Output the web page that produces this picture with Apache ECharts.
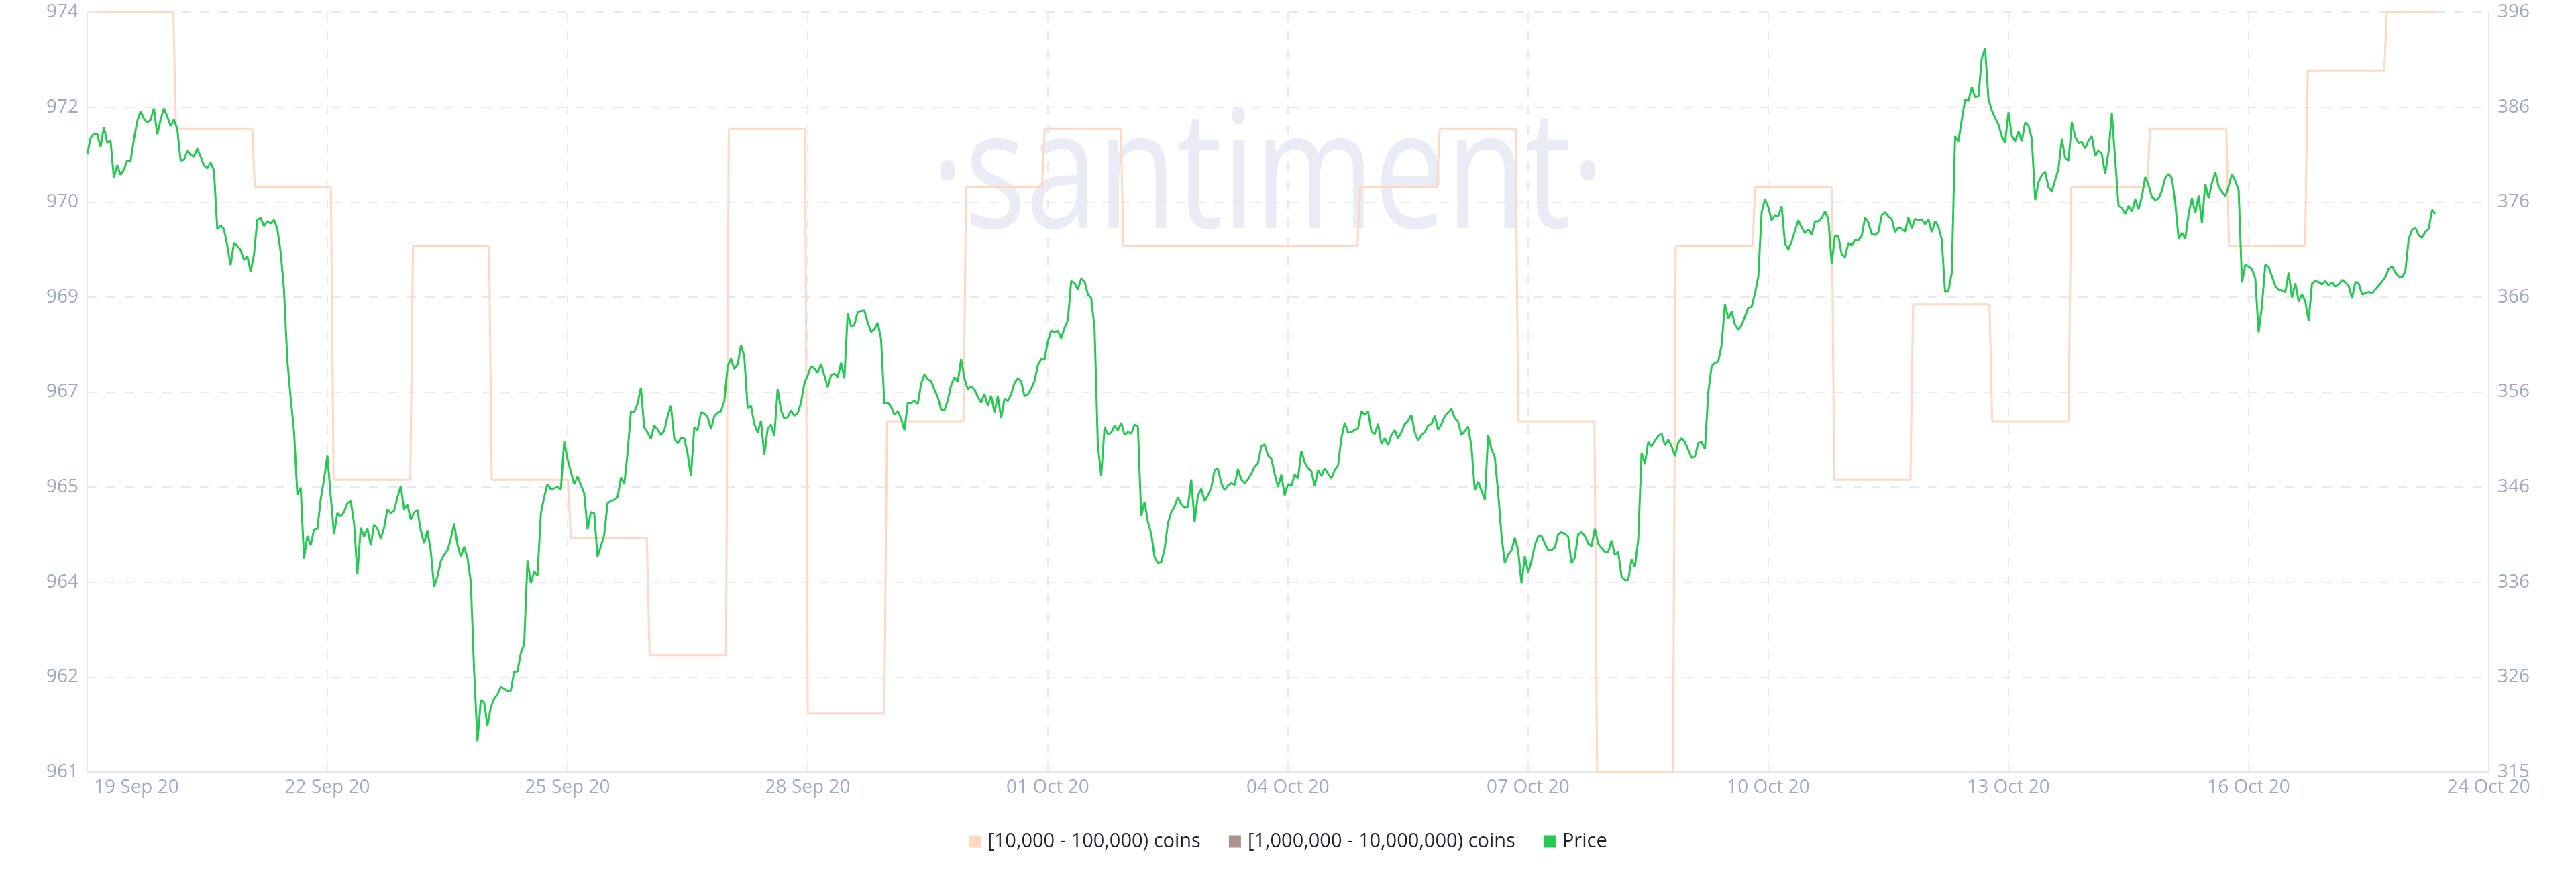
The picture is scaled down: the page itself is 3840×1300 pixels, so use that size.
<!DOCTYPE html>
<html>
<head>
<meta charset="utf-8">
<script src="https://cdn.jsdelivr.net/npm/echarts@6/dist/echarts.min.js"></script>
<style>
html,body{margin:0;padding:0;background:#ffffff;}
#chart{width:3840px;height:1300px;}
</style>
</head>
<body>
<div id="chart"></div>
<script>
// ---------- tick labels ----------
const xTickLabels = ['19 Sep 20','22 Sep 20','25 Sep 20','28 Sep 20','01 Oct 20','04 Oct 20','07 Oct 20','10 Oct 20','13 Oct 20','16 Oct 20','24 Oct 20'];
const leftTickLabels = ['961','962','964','965','967','969','970','972','974'];
const rightTickLabels = ['315','326','336','346','356','366','376','386','396'];

// ---------- holders [10,000 - 100,000) coins : daily value, start time in hours since 19 Sep 20 00:00 ----------
const coinsBandTimes = [3.02, 26.63, 50.26, 73.87, 97.67, 121.28, 144.99, 168.6, 192.32, 216.03,
  239.78, 263.5, 287.05, 310.68, 334.4, 358.0, 381.64, 405.49, 429.04, 452.68,
  476.23, 500.06, 523.77, 547.41, 571.12, 594.81, 618.42, 642.12, 665.73, 689.44];
const coinsBandValues = [974, 972, 971, 966, 970, 966, 965, 963, 972, 962,
  967, 971, 972, 970, 970, 970, 971, 972, 967, 961,
  970, 971, 966, 969, 967, 971, 972, 970, 973, 974];
const coinsBandEnd = 705.1;

// ---------- holders [1,000,000 - 10,000,000) coins (no visible values) ----------
const whaleBandValues = [];

// ---------- hourly price, from 19 Sep 20 00:00 ----------
const priceSep19to23 = [
  380.85,382.61,383.0,383.0,381.65,383.71,382.1,382.3,378.33,379.69,
  378.63,379.19,380.19,380.14,382.41,384.37,385.42,384.62,384.22,384.52,
  385.72,382.96,384.52,385.72,384.87,383.86,384.52,383.56,380.19,380.24,
  381.2,380.8,380.6,381.45,380.6,379.64,379.34,379.94,379.14,372.85,
  373.25,372.85,371.09,369.03,371.4,371.09,370.64,369.59,369.99,368.33,
  370.14,373.86,374.06,373.2,373.71,373.46,373.86,372.9,370.44,366.42,
  358.88,354.86,351.34,344.55,345.3,337.76,340.17,339.17,340.88,340.93,
  344.05,346.2,348.72,344.45,340.37,342.59,342.24,342.69,343.64,343.9,
  341.53,336.1,341.03,340.12,340.98,339.17,341.38,340.98,339.87,341.03,
  342.99,342.59,342.84,344.25,345.5,342.99,343.49,341.93,342.64,342.94,
  340.78,339.37,340.78,338.56,334.74,335.85,337.46,338.16,338.61,339.87,
  341.48,339.27,337.91,339.02,337.81,335.3,325.7,318.25,322.68];
const priceSep23to28 = [
  322.43,319.91,321.92,322.83,323.28,324.08,323.88,323.63,323.68,325.7,
  325.7,327.7,328.61,337.56,335.15,336.35,335.95,342.54,344.3,345.7,
  345.15,345.25,345.4,345.1,350.23,348.32,347.01,345.7,346.51,345.6,
  344.7,340.88,342.69,342.59,337.96,339.07,340.27,343.64,343.9,344.0,
  344.3,346.41,345.7,348.97,353.45,353.35,354.25,355.96,351.74,351.19,
  350.53,351.94,351.54,350.93,351.38,352.94,354.05,350.58,350.03,350.58,
  350.58,348.92,346.56,351.74,351.44,353.35,353.25,352.84,351.54,352.94,
  353.3,353.45,354.5,358.27,359.08,357.97,358.47,360.49,359.28,353.75,
  354.05,352.09,351.19,352.44,348.82,351.54,352.04,350.83,355.81,353.55,
  352.69,352.84,353.55,352.99,353.25,354.35,356.41,357.27,358.27,358.02,
  357.57,358.52,357.27,356.01,357.27,357.47,357.07,358.62,356.96,363.9,
  362.5,362.65,364.05,364.15,364.2,362.9,361.9,362.2,362.9,361.14];
const priceSep28toOct03 = [
  354.25,354.35,353.94,353.09,353.49,352.69,351.43,354.35,354.35,354.55,
  354.2,356.36,357.36,356.86,356.66,355.75,354.95,353.64,353.54,354.6,
  356.21,357.06,356.56,359.02,356.96,355.8,356.11,355.75,355.0,354.35,
  355.3,354.04,355.1,353.34,355.05,352.74,354.75,354.55,355.25,356.46,
  356.96,356.66,355.05,355.25,355.85,356.66,358.37,359.02,358.97,360.88,
  362.04,361.89,362.04,361.23,362.34,363.15,367.32,367.12,366.41,367.57,
  367.27,365.91,365.51,362.39,349.82,346.55,351.73,351.03,351.18,351.93,
  351.43,352.23,350.93,351.23,351.08,352.03,351.83,342.28,343.79,341.68,
  340.42,337.91,337.25,337.35,338.76,341.53,342.68,343.29,344.29,343.54,
  343.14,343.29,346.2,341.68,344.49,345.2,343.89,344.49,345.3,347.21,
  347.31,345.8,345.05,345.55,345.8,345.6,347.31,346.15,345.8,346.2,
  346.81,347.56,347.91,349.72,349.92,348.72,348.41,346.81,345.4];
const priceOct03to08 = [
  346.7,344.49,345.7,345.5,346.7,346.3,349.22,348.01,347.41,347.11,
  345.5,347.21,346.55,347.41,346.81,346.3,347.21,347.66,350.58,352.24,
  351.18,351.23,351.48,351.63,353.49,353.09,353.44,351.33,351.03,352.13,
  349.97,350.58,349.82,350.93,351.43,350.58,351.23,352.08,352.43,353.09,
  351.23,350.32,350.93,351.23,351.93,352.08,352.99,351.48,352.08,352.94,
  353.34,353.69,352.74,352.33,350.93,351.33,351.83,349.72,345.05,345.95,
  344.99,344.04,350.93,349.42,348.56,344.79,340.27,337.25,338.16,338.61,
  339.97,338.61,335.14,338.01,336.25,337.5,339.16,340.12,340.17,339.36,
  338.66,338.66,338.91,340.37,340.57,340.37,340.12,337.25,337.86,340.37,
  340.57,340.17,339.36,339.06,340.97,339.36,338.86,338.46,338.46,339.67,
  338.16,338.46,335.85,335.44,335.49,337.65,336.85,339.77,349.02,347.81,
  350.17,349.72,350.32,350.83,351.08,349.82,350.42,349.72,348.67,350.12];
const priceOct08to13 = [
  350.58,350.17,349.32,348.51,348.61,350.07,350.17,349.42,355.45,358.27,
  358.62,358.77,360.48,364.9,363.3,364.1,362.69,362.14,362.64,363.55,
  364.5,364.6,366.01,367.82,374.71,376.07,375.21,373.8,374.36,374.26,
  375.31,371.34,370.69,371.54,372.7,373.8,373.05,372.45,372.85,372.24,
  373.7,373.7,374.06,374.76,373.95,369.18,372.19,372.09,370.18,369.88,
  371.39,371.14,371.69,371.69,372.14,374.11,373.55,372.35,372.24,372.55,
  374.36,374.66,374.21,373.95,372.55,373.05,372.9,372.6,374.11,372.95,
  373.95,373.85,373.9,373.4,373.9,372.55,373.7,373.15,371.74,366.16,
  366.26,368.17,382.75,382.25,384.51,386.67,386.52,388.03,386.93,387.03,
  391.05,392.16,386.73,385.52,384.71,384.01,382.75,382.1,385.32,382.8,
  382.25,383.26,382.25,384.21,383.91,382.5,375.97,377.83,378.63,378.98,
  377.32,376.87,378.08,379.28,382.5,380.49,380.14,384.26,382.7,382.1];
const priceOct13to18 = [
  382.17,381.48,382.33,382.76,380.64,381.27,380.85,378.73,381.11,385.2,
  380.32,375.34,375.12,374.49,375.34,374.75,376.03,374.97,376.34,378.41,
  377.56,376.29,375.97,376.13,376.98,378.3,378.73,378.3,375.65,371.84,
  372.47,371.84,374.49,376.18,374.59,376.45,373.53,377.67,376.18,377.77,
  378.94,377.4,376.87,376.4,377.4,378.73,377.99,377.03,367.17,369.08,
  368.87,368.6,367.6,361.87,364.73,369.08,368.82,367.81,366.8,366.38,
  366.33,366.11,368.23,365.58,367.07,365.16,365.9,365.16,363.09,367.07,
  367.33,367.22,366.96,367.33,366.85,367.17,366.75,366.96,367.44,367.17,
  366.8,365.48,367.23,367.07,365.9,366.01,366.17,366.01,366.43,366.85,
  367.28,367.76,368.66,368.92,368.23,367.81,367.7,368.39,371.84,372.79,
  373.0,372.21,371.94,372.58,372.9,374.91,374.49];

// ---------- build series data ----------
const priceValues = [].concat(priceSep19to23, priceSep23to28, priceSep28toOct03, priceOct03to08, priceOct08to13, priceOct13to18);
const pricePoints = priceValues.map((v, i) => [i, v]);

const STEP_RAMP = 0.8; // hours taken by each change of the daily value
const coinsBandPoints = [];
coinsBandValues.forEach((v, i) => {
  const start = coinsBandTimes[i];
  const end = i + 1 < coinsBandTimes.length ? coinsBandTimes[i + 1] - STEP_RAMP : coinsBandEnd;
  coinsBandPoints.push([start, v], [end, v]);
});

// ---------- axes ----------
const X_MAX = 720, X_INTERVAL = 72;
const LEFT_MIN = 961, LEFT_MAX = 974;
const RIGHT_MIN = 315, RIGHT_MAX = 396;
const leftInterval = (LEFT_MAX - LEFT_MIN) / (leftTickLabels.length - 1);
const rightInterval = (RIGHT_MAX - RIGHT_MIN) / (rightTickLabels.length - 1);

const FONT = "'Open Sans', sans-serif";
const LABEL_COLOR = '#9faac4';
const GRID_COLOR = '#e6e9f2';
const AXIS_COLOR = '#e3e7f0';
const LABEL_SIZE = 28;

const chart = echarts.init(document.getElementById('chart'), null, {renderer: 'canvas', width: 3840, height: 1300});

const option = {
  animation: false,
  backgroundColor: '#ffffff',
  grid: {left: 130, right: 130, top: 18, bottom: 149, containLabel: false},
  graphic: [{
    type: 'text',
    x: 1890,
    y: 270,
    scaleX: 0.78,
    z: -10,
    silent: true,
    style: {
      text: '·santiment·',
      fill: '#e9ecf5',
      font: "400 246px 'Open Sans'",
      align: 'center',
      verticalAlign: 'middle',
      textAlign: 'center',
      textVerticalAlign: 'middle'
    }
  }],
  legend: {
    top: 1235,
    left: 'center',
    icon: 'rect',
    itemWidth: 18,
    itemHeight: 18,
    itemGap: 42,
    textStyle: {color: '#1f2235', fontSize: 29, fontFamily: FONT, padding: [0, 0, 0, 5]},
    data: ['[10,000 - 100,000) coins', '[1,000,000 - 10,000,000) coins', 'Price']
  },
  xAxis: {
    type: 'value',
    min: 0,
    max: X_MAX,
    interval: X_INTERVAL,
    axisLine: {show: true, onZero: false, lineStyle: {color: AXIS_COLOR, width: 2}},
    axisTick: {show: false},
    axisLabel: {
      color: LABEL_COLOR,
      fontSize: LABEL_SIZE,
      fontFamily: FONT,
      margin: 9,
      showMinLabel: true,
      showMaxLabel: true,
      alignMinLabel: 'left',
      alignMaxLabel: 'center',
      formatter: (v) => {
        const idx = Math.round(v / X_INTERVAL);
        const t = xTickLabels[idx] || '';
        return idx === 0 ? '{first|' + t + '}' : t;
      },
      rich: {first: {color: LABEL_COLOR, fontSize: LABEL_SIZE, fontFamily: FONT, padding: [0, 0, 0, 10]}}
    },
    splitLine: {show: true, showMinLine: false, showMaxLine: false, lineStyle: {color: GRID_COLOR, width: 2, type: [14, 14]}}
  },
  yAxis: [
    {
      type: 'value',
      position: 'left',
      min: LEFT_MIN,
      max: LEFT_MAX,
      interval: leftInterval,
      axisLine: {show: true, lineStyle: {color: AXIS_COLOR, width: 2}},
      axisTick: {show: false},
      axisLabel: {
        color: LABEL_COLOR, fontSize: LABEL_SIZE, fontFamily: FONT, margin: 13,
        formatter: (v) => leftTickLabels[Math.round((v - LEFT_MIN) / leftInterval)] || ''
      },
      splitLine: {show: true, lineStyle: {color: GRID_COLOR, width: 2, type: [14, 14]}}
    },
    {
      type: 'value',
      position: 'right',
      min: RIGHT_MIN,
      max: RIGHT_MAX,
      interval: rightInterval,
      axisLine: {show: true, lineStyle: {color: AXIS_COLOR, width: 2}},
      axisTick: {show: false},
      axisLabel: {
        color: LABEL_COLOR, fontSize: LABEL_SIZE, fontFamily: FONT, margin: 13,
        formatter: (v) => rightTickLabels[Math.round((v - RIGHT_MIN) / rightInterval)] || ''
      },
      splitLine: {show: false}
    }
  ],
  series: [
    {
      name: '[10,000 - 100,000) coins',
      type: 'line',
      yAxisIndex: 0,
      data: coinsBandPoints,
      symbol: 'none',
      showSymbol: false,
      color: '#ffd8c2',
      lineStyle: {width: 3, color: '#ffd8c2'},
      z: 2
    },
    {
      name: '[1,000,000 - 10,000,000) coins',
      type: 'line',
      yAxisIndex: 0,
      data: whaleBandValues,
      symbol: 'none',
      showSymbol: false,
      color: '#ac948c',
      lineStyle: {width: 3, color: '#ac948c'},
      z: 2
    },
    {
      name: 'Price',
      type: 'line',
      yAxisIndex: 1,
      data: pricePoints,
      symbol: 'none',
      showSymbol: false,
      color: '#26c953',
      lineStyle: {width: 3, color: '#26c953'},
      z: 3
    }
  ]
};
chart.setOption(option);
</script>
</body>
</html>
